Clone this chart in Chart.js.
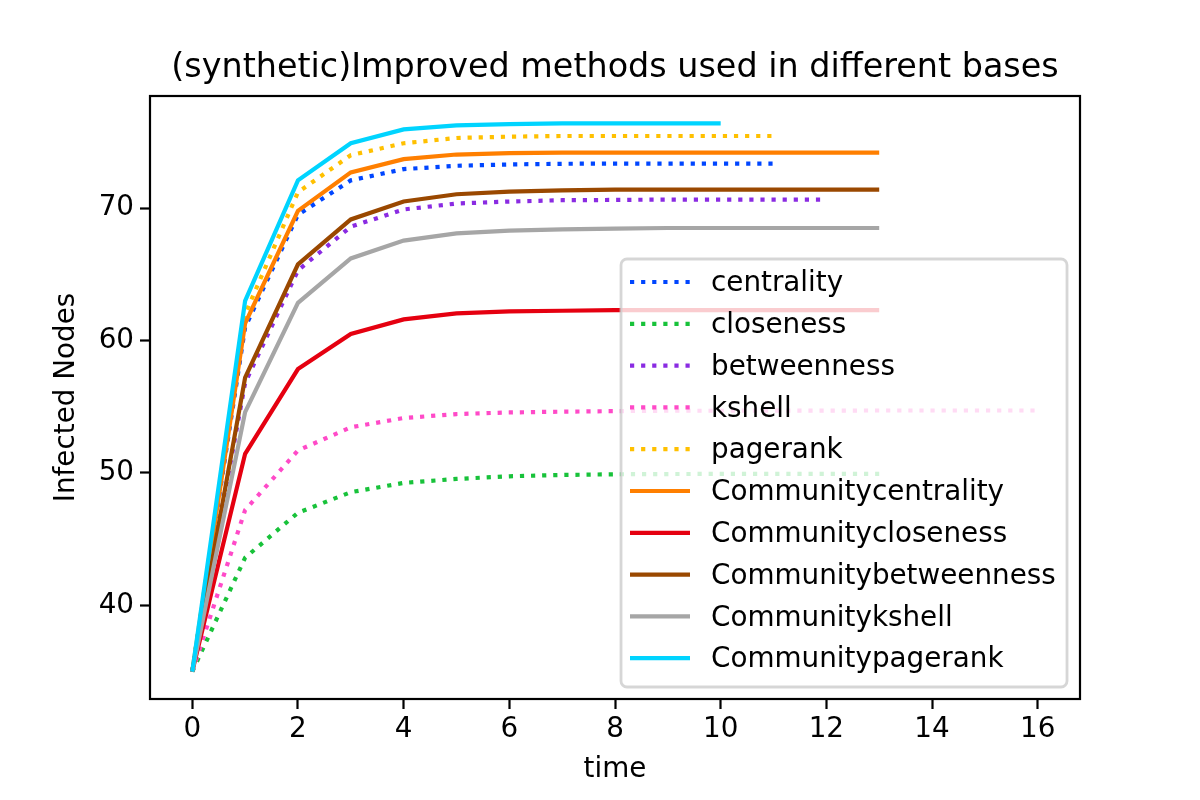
<!DOCTYPE html>
<html>
<head>
<meta charset="utf-8">
<script src="https://cdn.jsdelivr.net/npm/chart.js@4.4.0/dist/chart.umd.min.js"></script>
<style>
  html, body { margin: 0; padding: 0; background: #fff; }
  #wrap { width: 1200px; height: 800px; }
</style>
</head>
<body>
<div id="wrap"><canvas id="myChart" width="1200" height="800"></canvas></div>
<script>
// values, x = 0,1,2,... for each series
const centrality = [35, 61.0, 69.5, 72.1, 72.95, 73.2, 73.3, 73.35, 73.37, 73.37, 73.37, 73.37];
const closeness = [35, 43.6, 47.0, 48.55, 49.25, 49.55, 49.75, 49.85, 49.9, 49.92, 49.93, 49.93, 49.93, 49.93];
const betweenness = [35, 56.8, 65.3, 68.6, 69.9, 70.35, 70.5, 70.6, 70.62, 70.65, 70.65, 70.65, 70.65];
const kshell = [35, 47.2, 51.7, 53.45, 54.15, 54.45, 54.57, 54.63, 54.67, 54.7, 54.7, 54.71, 54.71, 54.72, 54.72, 54.72, 54.72];
const pagerank = [35, 62.0, 71.2, 74.0, 74.9, 75.3, 75.4, 75.45, 75.45, 75.45, 75.45, 75.45];
const commCentrality = [35, 61.3, 69.8, 72.7, 73.7, 74.05, 74.15, 74.2, 74.2, 74.2, 74.2, 74.2, 74.2, 74.2];
const commCloseness = [35, 51.45, 57.85, 60.5, 61.6, 62.05, 62.2, 62.25, 62.3, 62.3, 62.3, 62.3, 62.3, 62.3];
const commBetweenness = [35, 57.2, 65.75, 69.15, 70.5, 71.05, 71.25, 71.35, 71.4, 71.4, 71.4, 71.4, 71.4, 71.4];
const commKshell = [35, 54.6, 62.85, 66.2, 67.55, 68.1, 68.3, 68.4, 68.45, 68.5, 68.5, 68.5, 68.5, 68.5];
const commPagerank = [35, 63.0, 72.1, 74.9, 75.95, 76.25, 76.35, 76.4, 76.4, 76.4, 76.4];

const seriesNames = ['centrality', 'closeness', 'betweenness', 'kshell', 'pagerank',
  'Communitycentrality', 'Communitycloseness', 'Communitybetweenness', 'Communitykshell', 'Communitypagerank'];
const seriesValues = [centrality, closeness, betweenness, kshell, pagerank,
  commCentrality, commCloseness, commBetweenness, commKshell, commPagerank];
const seriesColors = ['#0046ff', '#18c23a', '#8a2be2', '#ff4ac8', '#ffc000',
  '#ff7f00', '#e50010', '#9a4800', '#a6a6a6', '#00d4ff'];
const dotted = [true, true, true, true, true, false, false, false, false, false];

const xTicks = [0, 2, 4, 6, 8, 10, 12, 14, 16];
const yTicks = [40, 50, 60, 70];

const FONT = 'DejaVu Sans';
const LW = 4.2;
const DOTS = [4.2, 6.9];

const datasets = seriesValues.map((vals, i) => ({
  label: seriesNames[i],
  data: vals.map((v, k) => ({ x: k, y: v })),
  borderColor: seriesColors[i],
  backgroundColor: seriesColors[i],
  borderWidth: LW,
  borderDash: dotted[i] ? DOTS : [],
  borderCapStyle: 'butt',
  pointRadius: 0,
  tension: 0,
  fill: false,
  order: seriesValues.length - i
}));

// frame, title and legend drawn like matplotlib
const decor = {
  id: 'decor',
  afterDatasetsDraw(chart) {
    const { ctx, chartArea: a } = chart;
    ctx.save();
    ctx.strokeStyle = '#000';
    ctx.lineWidth = 2.2;
    ctx.strokeRect(a.left, a.top, a.right - a.left, a.bottom - a.top);

    ctx.fillStyle = '#000';
    ctx.font = '33.4px "' + FONT + '"';
    ctx.textAlign = 'center';
    ctx.textBaseline = 'middle';
    ctx.fillText('(synthetic)Improved methods used in different bases', (a.left + a.right) / 2, 68);

    // legend
    const lx = 621, ly = 259, lw = 446, lh = 428, r = 6;
    ctx.beginPath();
    ctx.roundRect(lx, ly, lw, lh, r);
    ctx.fillStyle = 'rgba(255,255,255,0.8)';
    ctx.fill();
    ctx.lineWidth = 2.8;
    ctx.strokeStyle = 'rgba(204,204,204,0.8)';
    ctx.stroke();

    ctx.font = '27.8px "' + FONT + '"';
    ctx.textAlign = 'left';
    chart.data.datasets.forEach((ds, i) => {
      const y = 282 + i * 41.8;
      ctx.beginPath();
      ctx.setLineDash(ds.borderDash);
      ctx.lineCap = 'butt';
      ctx.lineWidth = LW;
      ctx.strokeStyle = ds.borderColor;
      ctx.moveTo(630, y);
      ctx.lineTo(690, y);
      ctx.stroke();
      ctx.setLineDash([]);
      ctx.fillStyle = '#000';
      ctx.fillText(ds.label, 711, y + 2);
    });
    ctx.restore();
  }
};

const tickFont = { family: FONT, size: 27.8 };

new Chart(document.getElementById('myChart'), {
  type: 'line',
  data: { datasets: datasets },
  options: {
    responsive: false,
    animation: false,
    devicePixelRatio: 1,
    layout: { padding: { top: 96, right: 120, left: 0, bottom: 0 } },
    plugins: {
      legend: { display: false },
      tooltip: { enabled: false },
      title: { display: false }
    },
    scales: {
      x: {
        type: 'linear',
        min: -0.8,
        max: 16.8,
        afterFit: (s) => { s.height = 101; },
        afterBuildTicks: (s) => { s.ticks = xTicks.map(v => ({ value: v })); },
        border: { display: false },
        grid: { drawOnChartArea: false, drawTicks: true, tickLength: 10, tickWidth: 2.2, tickColor: '#000' },
        ticks: { color: '#000', font: tickFont, padding: 4, maxRotation: 0 },
        title: { display: true, text: 'time', color: '#000', font: tickFont, padding: { top: 0, bottom: 14 } }
      },
      y: {
        type: 'linear',
        min: 32.93,
        max: 78.47,
        afterFit: (s) => { s.width = 150; },
        afterBuildTicks: (s) => { s.ticks = yTicks.map(v => ({ value: v })); },
        border: { display: false },
        grid: { drawOnChartArea: false, drawTicks: true, tickLength: 10, tickWidth: 2.2, tickColor: '#000' },
        ticks: { color: '#000', font: tickFont, padding: 6 },
        title: { display: true, text: 'Infected Nodes', color: '#000', font: tickFont, padding: { top: 50, bottom: 0 } }
      }
    }
  },
  plugins: [decor]
});
</script>
</body>
</html>
